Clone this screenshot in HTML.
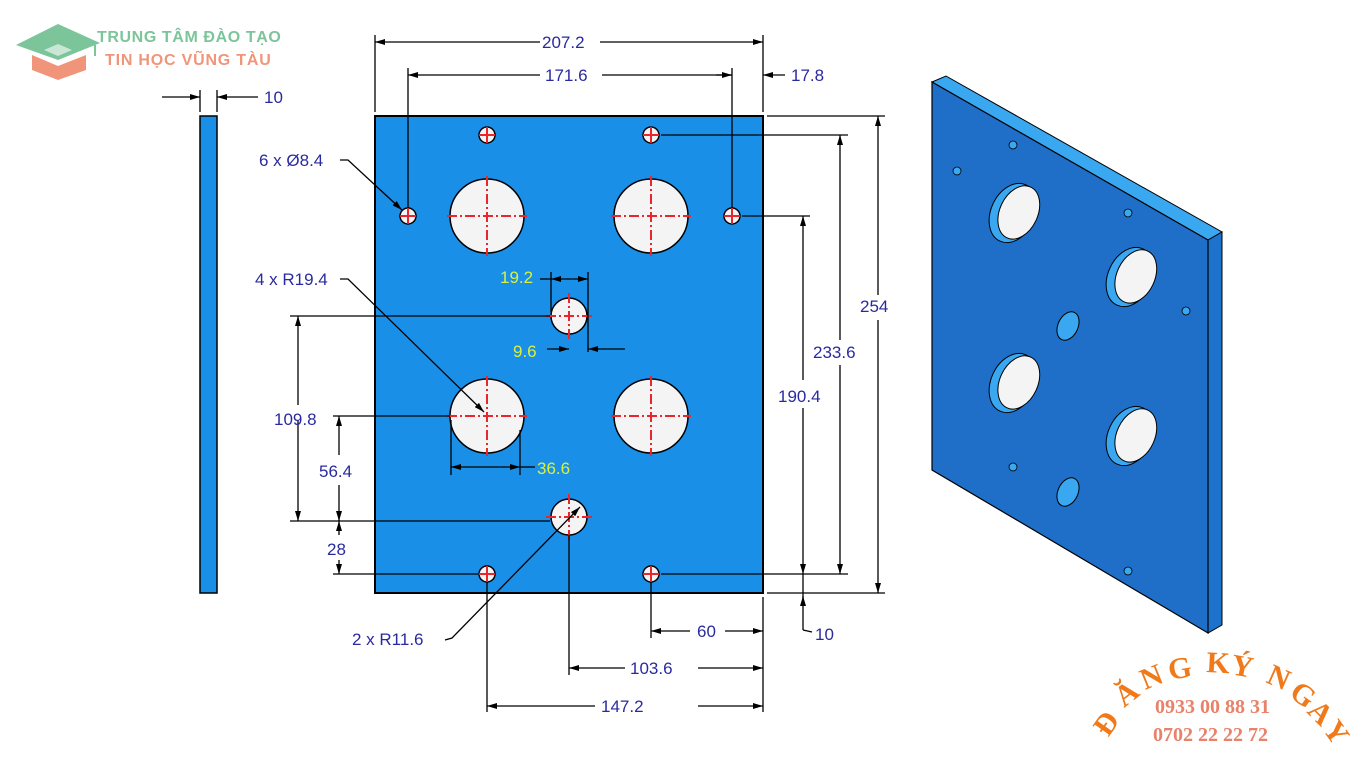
<!DOCTYPE html>
<html><head><meta charset="utf-8"><style>
html,body{margin:0;padding:0;background:#fff;width:1366px;height:768px;overflow:hidden}
svg{display:block}
.t{font-family:"Liberation Sans",sans-serif;font-size:17px;fill:#2a2aa0}
.y{font-family:"Liberation Sans",sans-serif;font-size:17px;fill:#d8f040}
</style></head><body>
<svg width="1366" height="768" viewBox="0 0 1366 768">
<defs>
<marker id="a" markerWidth="10" markerHeight="6" refX="10" refY="3" orient="auto-start-reverse" markerUnits="userSpaceOnUse"><path d="M0,0 L10,3 L0,6z" fill="#000"/></marker>
</defs>
<!-- logo -->
<polygon points="16,45 58,24 100,43 58,60" fill="#7cc49a"/>
<polygon points="32,55 58,66 86,55 86,70 58,80 32,70" fill="#f0957a"/>
<polygon points="44,50 58,44 72,50 58,56" fill="#ffffff" opacity=".6"/>
<line x1="95" y1="45" x2="95" y2="56" stroke="#7cc49a" stroke-width="2"/>
<text x="97" y="42" font-family="Liberation Sans,sans-serif" font-weight="bold" font-size="16" letter-spacing="0.6" fill="#7cc49a">TRUNG TÂM ĐÀO TẠO</text>
<text x="105" y="65" font-family="Liberation Sans,sans-serif" font-weight="bold" font-size="16" letter-spacing="0.8" fill="#f0957a">TIN HỌC VŨNG TÀU</text>

<!-- side view -->
<rect x="200" y="116" width="17" height="477" fill="#1a8fe8" stroke="#000" stroke-width="1.5"/>
<g stroke="#000" stroke-width="1.3" fill="none">
<line x1="200" y1="90" x2="200" y2="112"/><line x1="217" y1="90" x2="217" y2="112"/>
<line x1="162" y1="97" x2="200" y2="97" marker-end="url(#a)"/>
<line x1="258" y1="97" x2="217" y2="97" marker-end="url(#a)"/>
</g>
<text class="t" x="264" y="103">10</text>

<!-- plate -->
<rect x="375" y="116" width="388" height="477" fill="#1a8fe8" stroke="#000" stroke-width="2"/>
<g fill="#f4f4f4" stroke="#000" stroke-width="1.5">
<circle cx="487" cy="216" r="37"/><circle cx="651" cy="216" r="37"/>
<circle cx="487" cy="416" r="37"/><circle cx="651" cy="416" r="37"/>
<circle cx="569" cy="316" r="18"/><circle cx="569" cy="517" r="18"/>
<circle cx="487" cy="135" r="8"/><circle cx="651" cy="135" r="8"/>
<circle cx="408" cy="216" r="8"/><circle cx="732" cy="216" r="8"/>
<circle cx="487" cy="574" r="8"/><circle cx="651" cy="574" r="8"/>
</g>
<g stroke="#e8262e" stroke-width="2" stroke-dasharray="10,3,2,3">
<path d="M447,216h80M487,176v80M611,216h80M651,176v80M447,416h80M487,376v80M611,416h80M651,376v80M546,316h46M569,293v46M546,517h46M569,494v46"/>
<path d="M479,135h16M487,127v16M643,135h16M651,127v16M400,216h16M408,208v16M724,216h16M732,208v16M479,574h16M487,566v16M643,574h16M651,566v16" stroke-dasharray="none"/>
</g>

<!-- dimension lines -->
<g stroke="#000" stroke-width="1.3" fill="none">
<line x1="375" y1="35" x2="375" y2="112"/><line x1="763" y1="35" x2="763" y2="112"/>
<line x1="540" y1="42" x2="375" y2="42" marker-end="url(#a)"/><line x1="600" y1="42" x2="763" y2="42" marker-end="url(#a)"/>
<line x1="408" y1="68" x2="408" y2="208"/><line x1="732" y1="68" x2="732" y2="208"/>
<line x1="540" y1="75" x2="408" y2="75" marker-end="url(#a)"/><line x1="602" y1="75" x2="732" y2="75" marker-end="url(#a)"/>
<line x1="716" y1="75" x2="732" y2="75"/><line x1="785" y1="75" x2="763" y2="75" marker-end="url(#a)"/>
<line x1="767" y1="116" x2="885" y2="116"/><line x1="767" y1="593" x2="885" y2="593"/>
<line x1="878" y1="295" x2="878" y2="116" marker-end="url(#a)"/><line x1="878" y1="320" x2="878" y2="593" marker-end="url(#a)"/>
<line x1="661" y1="135" x2="848" y2="135"/><line x1="661" y1="574" x2="848" y2="574"/>
<line x1="840" y1="340" x2="840" y2="135" marker-end="url(#a)"/><line x1="840" y1="365" x2="840" y2="574" marker-end="url(#a)"/>
<line x1="742" y1="216" x2="810" y2="216"/>
<line x1="803" y1="380" x2="803" y2="216" marker-end="url(#a)"/><line x1="803" y1="408" x2="803" y2="574" marker-end="url(#a)"/>
<line x1="803" y1="574" x2="803" y2="604" /><line x1="803" y1="630" x2="803" y2="596" marker-end="url(#a)"/><line x1="803" y1="630" x2="812" y2="632"/>
<line x1="651" y1="582" x2="651" y2="638"/><line x1="763" y1="597" x2="763" y2="680"/>
<line x1="690" y1="631" x2="651" y2="631" marker-end="url(#a)"/><line x1="725" y1="631" x2="763" y2="631" marker-end="url(#a)"/>
<line x1="569" y1="535" x2="569" y2="675"/>
<line x1="625" y1="668" x2="569" y2="668" marker-end="url(#a)"/><line x1="698" y1="668" x2="763" y2="668" marker-end="url(#a)"/>
<line x1="487" y1="582" x2="487" y2="712"/><line x1="763" y1="680" x2="763" y2="712"/>
<line x1="595" y1="706" x2="487" y2="706" marker-end="url(#a)"/><line x1="698" y1="706" x2="763" y2="706" marker-end="url(#a)"/>
<line x1="290" y1="316" x2="550" y2="316"/><line x1="290" y1="521" x2="550" y2="521"/>
<line x1="298" y1="405" x2="298" y2="316" marker-end="url(#a)"/><line x1="298" y1="420" x2="298" y2="521" marker-end="url(#a)"/>
<line x1="333" y1="416" x2="450" y2="416"/>
<line x1="339" y1="455" x2="339" y2="416" marker-end="url(#a)"/><line x1="339" y1="485" x2="339" y2="521" marker-end="url(#a)"/>
<line x1="333" y1="574" x2="478" y2="574"/>
<line x1="339" y1="535" x2="339" y2="521" marker-end="url(#a)"/><line x1="339" y1="560" x2="339" y2="574" marker-end="url(#a)"/>
<line x1="451" y1="420" x2="451" y2="475"/><line x1="520" y1="430" x2="520" y2="475"/>
<line x1="485" y1="467" x2="451" y2="467" marker-end="url(#a)"/><line x1="485" y1="467" x2="520" y2="467" marker-end="url(#a)"/><line x1="520" y1="467" x2="535" y2="467"/>
<line x1="551" y1="272" x2="551" y2="312"/><line x1="588" y1="272" x2="588" y2="352"/>
<line x1="569" y1="279" x2="551" y2="279" marker-end="url(#a)"/><line x1="569" y1="279" x2="588" y2="279" marker-end="url(#a)"/><line x1="540" y1="279" x2="551" y2="279"/>
<line x1="547" y1="349" x2="569" y2="349" marker-end="url(#a)"/><line x1="625" y1="349" x2="588" y2="349" marker-end="url(#a)"/>
<polyline points="340,160 348,160 402,210" marker-end="url(#a)"/>
<polyline points="340,279 348,279 484,412" marker-end="url(#a)"/>
<polyline points="445,640 452,638 580,507" marker-end="url(#a)"/>
</g>
<text class="t" x="542" y="48">207.2</text>
<text class="t" x="545" y="81">171.6</text>
<text class="t" x="791" y="81">17.8</text>
<text class="t" x="860" y="312">254</text>
<text class="t" x="813" y="358">233.6</text>
<text class="t" x="778" y="402">190.4</text>
<text class="t" x="815" y="640">10</text>
<text class="t" x="697" y="637">60</text>
<text class="t" x="630" y="674">103.6</text>
<text class="t" x="601" y="712">147.2</text>
<text class="t" x="259" y="166">6 x Ø8.4</text>
<text class="t" x="255" y="285">4 x R19.4</text>
<text class="t" x="274" y="425">109.8</text>
<text class="t" x="319" y="477">56.4</text>
<text class="t" x="327" y="555">28</text>
<text class="t" x="352" y="645">2 x R11.6</text>
<text class="y" x="500" y="283">19.2</text>
<text class="y" x="513" y="357">9.6</text>
<text class="y" x="537" y="474">36.6</text>

<!-- 3D plate -->
<polygon points="932,82 946,76 1222,232 1208,240" fill="#3aa8f0" stroke="#000" stroke-width="1"/>
<polygon points="1208,240 1222,232 1222,625 1208,633" fill="#1d72cc" stroke="#000" stroke-width="1"/>
<polygon points="932,82 1208,240 1208,633 932,470" fill="#1f6fc8" stroke="#000" stroke-width="1.2"/>
<g stroke="#000" stroke-width="1">
<g transform="rotate(25 1013 213)"><ellipse cx="1013" cy="213" rx="22" ry="31" fill="#3aa8f0"/><ellipse cx="1018" cy="210" rx="19" ry="28" fill="#f4f4f4"/></g>
<g transform="rotate(25 1130 277)"><ellipse cx="1130" cy="277" rx="22" ry="31" fill="#3aa8f0"/><ellipse cx="1135" cy="274" rx="19" ry="28" fill="#f4f4f4"/></g>
<g transform="rotate(25 1013 383)"><ellipse cx="1013" cy="383" rx="22" ry="31" fill="#3aa8f0"/><ellipse cx="1018" cy="380" rx="19" ry="28" fill="#f4f4f4"/></g>
<g transform="rotate(25 1130 436)"><ellipse cx="1130" cy="436" rx="22" ry="31" fill="#3aa8f0"/><ellipse cx="1135" cy="433" rx="19" ry="28" fill="#f4f4f4"/></g>
<ellipse cx="1068" cy="326" rx="10" ry="15" transform="rotate(25 1068 326)" fill="#3aa8f0"/>
<ellipse cx="1068" cy="492" rx="10" ry="15" transform="rotate(25 1068 492)" fill="#3aa8f0"/>
</g>
<g fill="#3aa8f0" stroke="#000" stroke-width="0.8">
<circle cx="1013" cy="145" r="4"/><circle cx="957" cy="171" r="4"/><circle cx="1128" cy="213" r="4"/>
<circle cx="1186" cy="311" r="4"/><circle cx="1013" cy="467" r="4"/><circle cx="1128" cy="571" r="4"/>
</g>

<!-- register -->
<text x="1155" y="713" font-family="Liberation Serif,serif" font-weight="bold" font-size="20" fill="#e8826a">0933 00 88 31</text>
<text x="1153" y="741" font-family="Liberation Serif,serif" font-weight="bold" font-size="20" fill="#e8826a">0702 22 22 72</text>
<g font-family="Liberation Serif,serif" font-weight="bold" font-size="30" fill="#f07a1a">
<text transform="translate(1108,738) rotate(-55)">Đ</text>
<text transform="translate(1124,708) rotate(-38)">Ă</text>
<text transform="translate(1145,690) rotate(-22)">N</text>
<text transform="translate(1170,680) rotate(-10)">G</text>
<text transform="translate(1206,672) rotate(3)">K</text>
<text transform="translate(1230,674) rotate(10)">Ý</text>
<text transform="translate(1265,682) rotate(24)">N</text>
<text transform="translate(1288,696) rotate(35)">G</text>
<text transform="translate(1306,712) rotate(45)">A</text>
<text transform="translate(1322,729) rotate(55)">Y</text>
</g>
</svg>
</body></html>
